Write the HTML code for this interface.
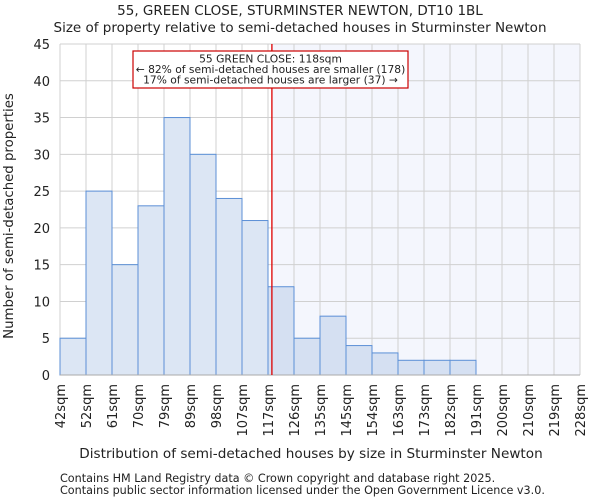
<!DOCTYPE html>
<html><head><meta charset="utf-8"><style>
body{margin:0;background:#fff;font-family:"DejaVu Sans","Liberation Sans",sans-serif;}
</style></head><body>
<svg width="600" height="500" xmlns="http://www.w3.org/2000/svg" font-family="DejaVu Sans, Liberation Sans, sans-serif">
<text x="300" y="15" text-anchor="middle" font-size="13.5" fill="#222">55, GREEN CLOSE, STURMINSTER NEWTON, DT10 1BL</text>
<text x="300" y="32" text-anchor="middle" font-size="13.5" fill="#222">Size of property relative to semi-detached houses in Sturminster Newton</text>
<g id="plot"></g>
<text x="311" y="458" text-anchor="middle" font-size="13.6" fill="#222">Distribution of semi-detached houses by size in Sturminster Newton</text>
<text transform="translate(13,216) rotate(-90)" text-anchor="middle" font-size="13.3" fill="#222">Number of semi-detached properties</text>
<text x="60" y="482" font-size="11.2" fill="#222">Contains HM Land Registry data © Crown copyright and database right 2025.</text>
<text x="60" y="494" font-size="11.2" fill="#222">Contains public sector information licensed under the Open Government Licence v3.0.</text>
</svg>
<script>
const binLabels=["42sqm","52sqm","61sqm","70sqm","79sqm","89sqm","98sqm","107sqm","117sqm","126sqm","135sqm","145sqm","154sqm","163sqm","173sqm","182sqm","191sqm","200sqm","210sqm","219sqm","228sqm"];
const counts=[5,25,15,23,35,30,24,21,12,5,8,4,3,2,2,2,0,0,0,0];
const yTicks=[0,5,10,15,20,25,30,35,40,45];
const markerBin=8.15;
const NS="http://www.w3.org/2000/svg";
const g=document.getElementById('plot');
const L=60,R=580,T=44,B=375,yMax=45;
const bw=(R-L)/counts.length;
const xs=i=>L+i*bw;
const ys=v=>B-(B-T)*v/yMax;
function mk(t,a){const e=document.createElementNS(NS,t);for(const k in a)e.setAttribute(k,a[k]);g.appendChild(e);return e;}
const mx=xs(markerBin);
let e=mk('rect',{x:mx,y:T,width:R-mx,height:B-T,fill:'#f4f6fd'});


for(let i=0;i<binLabels.length;i++){e=mk('line',{x1:xs(i),x2:xs(i),y1:T,y2:B,stroke:'#d0d0d0','stroke-width':1});

}
yTicks.forEach(v=>{e=mk('line',{x1:L,x2:R,y1:ys(v),y2:ys(v),stroke:'#d0d0d0','stroke-width':1});


e=mk('text',{x:L-10,y:ys(v)+5,'text-anchor':'end','font-size':13,fill:'#222'});e.textContent=v;

});
counts.forEach((c,i)=>{if(c<=0)return;e=mk('rect',{x:xs(i),y:ys(c),width:bw,height:B-ys(c),fill:i>=8?'#d5e0f2':'#dce6f4',stroke:'#5b8fd6','stroke-width':1});

});
binLabels.forEach((s,i)=>{e=mk('text',{transform:`translate(${xs(i)+5},384) rotate(-90)`,'text-anchor':'end','font-size':13,fill:'#222'});e.textContent=s;

});
e=mk('line',{x1:L,x2:R,y1:B,y2:B,stroke:'#aaa','stroke-width':1});


e=mk('line',{x1:mx,x2:mx,y1:T,y2:B,stroke:'#d00','stroke-width':1.3});


e=mk('rect',{x:133,y:51,width:275,height:37,fill:'#fff',stroke:'#c00','stroke-width':1.2});


const ann=["55 GREEN CLOSE: 118sqm","← 82% of semi-detached houses are smaller (178)","17% of semi-detached houses are larger (37) →"];
ann.forEach((t,i)=>{e=mk('text',{x:270.5,y:62.5+i*10.5,'text-anchor':'middle','font-size':10.7,fill:'#222'});e.textContent=t;

});
</script>
</body></html>
